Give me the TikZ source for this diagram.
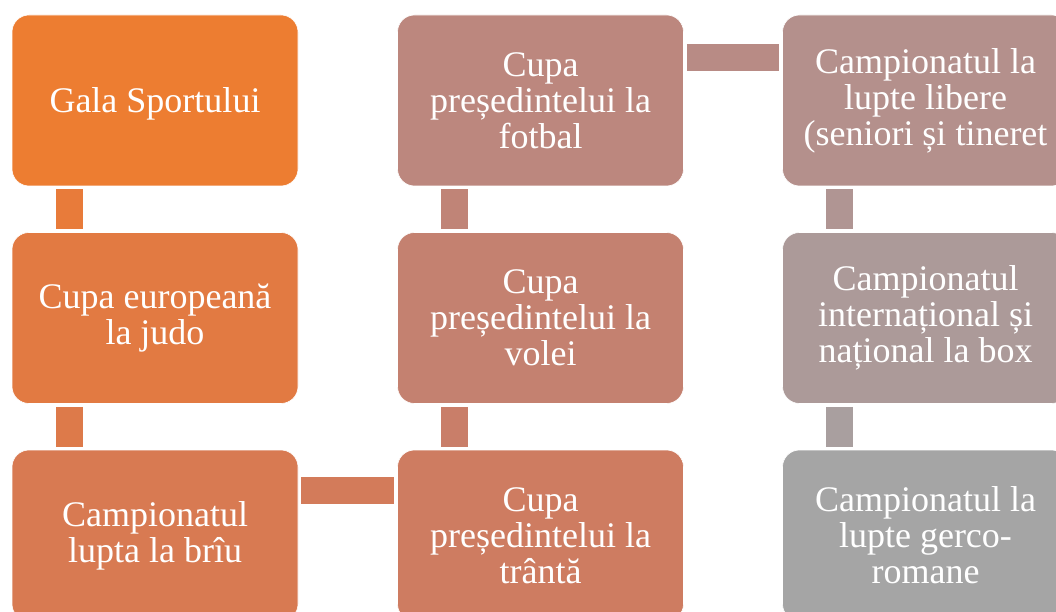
\documentclass[tikz,border=0pt]{standalone}
\usepackage{fontspec}
\setmainfont{Liberation Serif}
\definecolor{boxA}{HTML}{ED7D31}
\definecolor{boxB}{HTML}{E27A42}
\definecolor{boxC}{HTML}{D87A52}
\definecolor{boxD}{HTML}{CE7C61}
\definecolor{boxE}{HTML}{C48170}
\definecolor{boxF}{HTML}{BC877E}
\definecolor{boxG}{HTML}{B4908C}
\definecolor{boxH}{HTML}{AC9A99}
\definecolor{boxI}{HTML}{A5A5A5}

\begin{document}
\begin{tikzpicture}[x=1pt, y=-1pt,
  box/.style={rectangle, rounded corners=17pt, minimum width=286pt, minimum height=171pt,
    inner sep=0pt, align=center, text=white, draw=white, line width=0.6pt,
    font=\fontsize{36}{36}\selectfont, execute at begin node=\rule{0pt}{31pt}},
  bar/.style={line width=27pt}]
\useasboundingbox (0,0) rectangle (1056,612);
\clip (0,0) rectangle (1056,612);
% first column
\node[box, fill=boxA] (gala) at (155,100.5) {Gala Sportului};
\node[box, fill=boxB] (judo) at (155,318) {Cupa europeană\\la judo};
\node[box, fill=boxC] (briu) at (155,535.5) {Campionatul\\lupta la brîu};
% second column
\node[box, fill=boxD] (tranta) at (540.5,535.5) {Cupa\\președintelui la\\trântă};
\node[box, fill=boxE] (volei) at (540.5,318) {Cupa\\președintelui la\\volei};
\node[box, fill=boxF] (fotbal) at (540.5,100.5) {Cupa\\președintelui la\\fotbal};
% third column
\node[box, fill=boxG] (libere) at (925.5,100.5) {Campionatul la\\lupte libere\\(seniori și tineret};
\node[box, fill=boxH] (boxing) at (925.5,318) {Campionatul\\internațional și\\național la box};
\node[box, fill=boxI] (greco) at (925.5,535.5) {Campionatul la\\lupte gerco-\\romane};
% connectors
\draw[bar, boxA!50!boxB] ([xshift=57.5pt,yshift=-3pt]gala.south west) -- ([xshift=57.5pt,yshift=3pt]judo.north west);
\draw[bar, boxB!50!boxC] ([xshift=57.5pt,yshift=-3pt]judo.south west) -- ([xshift=57.5pt,yshift=3pt]briu.north west);
\draw[bar, boxC!50!boxD] ([xshift=3pt,yshift=-41pt]briu.north east) -- ([xshift=-3pt,yshift=-41pt]tranta.north west);
\draw[bar, boxD!50!boxE] ([xshift=57.5pt,yshift=3pt]tranta.north west) -- ([xshift=57.5pt,yshift=-3pt]volei.south west);
\draw[bar, boxE!50!boxF] ([xshift=57.5pt,yshift=3pt]volei.north west) -- ([xshift=57.5pt,yshift=-3pt]fotbal.south west);
\draw[bar, boxF!50!boxG] ([xshift=3pt,yshift=-42.5pt]fotbal.north east) -- ([xshift=-3pt,yshift=-42.5pt]libere.north west);
\draw[bar, boxG!50!boxH] ([xshift=57.5pt,yshift=-3pt]libere.south west) -- ([xshift=57.5pt,yshift=3pt]boxing.north west);
\draw[bar, boxH!50!boxI] ([xshift=57.5pt,yshift=-3pt]boxing.south west) -- ([xshift=57.5pt,yshift=3pt]greco.north west);
\end{tikzpicture}
\end{document}
